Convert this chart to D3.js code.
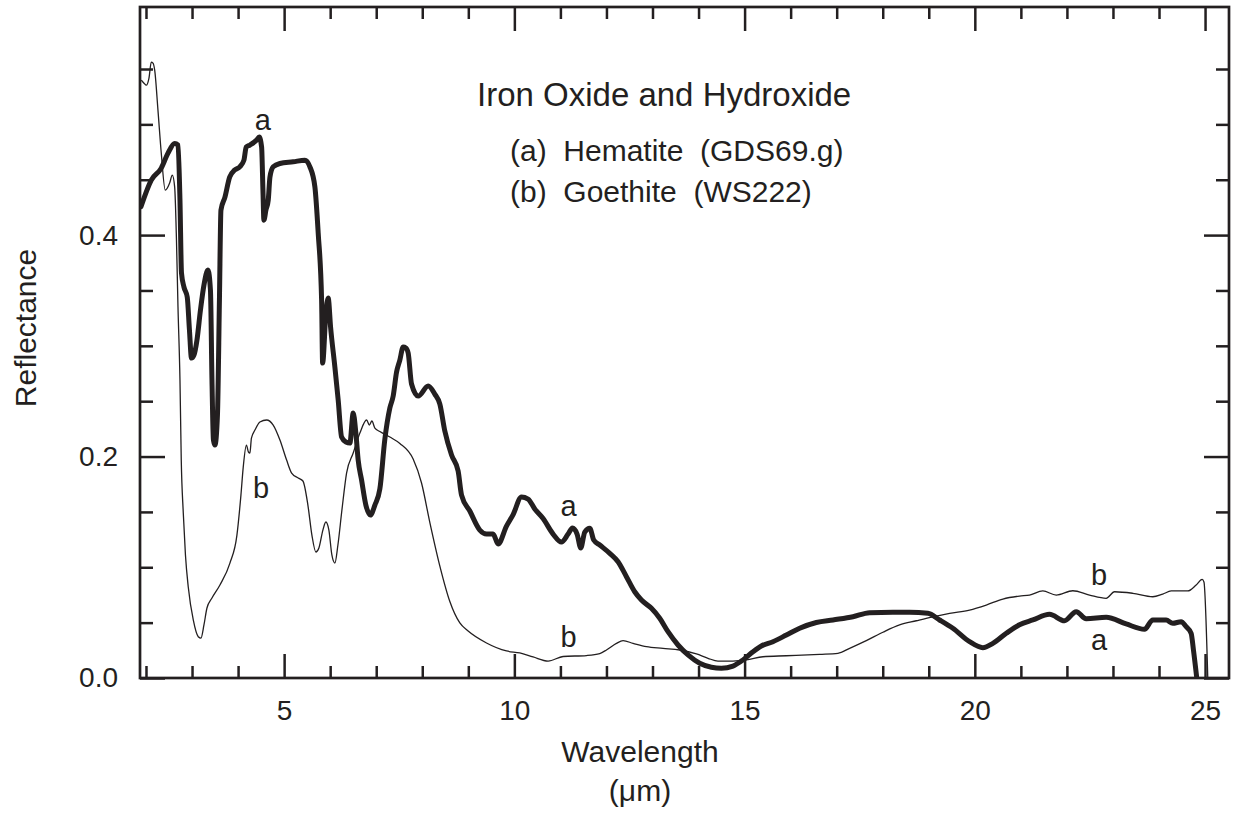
<!DOCTYPE html>
<html><head><meta charset="utf-8">
<script src="https://cdn.jsdelivr.net/npm/d3@7"></script>
<style>
body{margin:0;background:#fff}
text{font-family:"Liberation Sans",Arial,Helvetica,sans-serif;fill:#231f20}
</style>
</head><body>
<svg id="chart" width="1241" height="824"></svg>
<script>
// Hematite (GDS69.g) — wavelength (µm) and reflectance
const hematiteWl = [1.891,2.115,2.332,2.478,2.623,2.695,2.738,2.771,2.825,2.896,2.944,2.988,3.042,3.107,3.183,3.259,3.346,3.400,3.433,3.465,3.498,3.552,3.595,3.628,3.715,3.817,3.925,4.040,4.127,4.177,4.257,4.403,4.459,4.511,4.540,4.561,4.605,4.655,4.692,4.763,4.909,5.197,5.451,5.560,5.668,5.740,5.814,5.836,5.907,5.957,6.009,6.102,6.174,6.248,6.341,6.428,6.500,6.558,6.608,6.682,6.775,6.873,6.971,7.079,7.188,7.296,7.368,7.442,7.513,7.585,7.644,7.694,7.767,7.911,8.128,8.273,8.382,8.490,8.636,8.779,8.853,9.033,9.250,9.395,9.539,9.647,9.829,9.973,10.155,10.298,10.444,10.624,10.841,11.023,11.167,11.262,11.362,11.442,11.529,11.638,11.724,11.855,12.072,12.252,12.434,12.614,12.760,12.977,13.157,13.337,13.554,13.771,14.025,14.279,14.496,14.748,14.965,15.182,15.364,15.616,15.907,16.196,16.558,16.919,17.353,17.715,18.221,18.583,18.981,19.235,19.523,19.886,20.174,20.392,20.683,20.971,21.260,21.622,21.948,22.202,22.419,22.853,23.287,23.684,23.865,24.155,24.299,24.481,24.590,24.698,24.748,24.820];
const hematiteR = [0.4256,0.4497,0.4605,0.4740,0.4828,0.4813,0.4316,0.3657,0.3530,0.3440,0.3142,0.2889,0.2916,0.3052,0.3323,0.3549,0.3684,0.3503,0.2691,0.2149,0.2104,0.2375,0.3413,0.4226,0.4343,0.4524,0.4587,0.4617,0.4677,0.4795,0.4813,0.4858,0.4885,0.4795,0.4406,0.4135,0.4226,0.4316,0.4524,0.4617,0.4647,0.4662,0.4677,0.4617,0.4436,0.4018,0.3413,0.2844,0.3296,0.3431,0.3169,0.2808,0.2510,0.2176,0.2131,0.2122,0.2393,0.2212,0.1968,0.1788,0.1562,0.1472,0.1562,0.1707,0.2158,0.2438,0.2546,0.2763,0.2871,0.2989,0.2980,0.2935,0.2655,0.2546,0.2637,0.2564,0.2474,0.2230,0.2014,0.1869,0.1652,0.1508,0.1336,0.1300,0.1300,0.1210,0.1372,0.1476,0.1634,0.1616,0.1526,0.1440,0.1300,0.1228,0.1300,0.1354,0.1300,0.1174,0.1318,0.1352,0.1246,0.1201,0.1126,0.1050,0.0915,0.0779,0.0704,0.0629,0.0539,0.0418,0.0298,0.0208,0.0133,0.0097,0.0088,0.0108,0.0163,0.0237,0.0289,0.0328,0.0388,0.0449,0.0501,0.0524,0.0553,0.0590,0.0593,0.0593,0.0584,0.0524,0.0449,0.0328,0.0274,0.0313,0.0404,0.0481,0.0524,0.0575,0.0517,0.0599,0.0535,0.0548,0.0488,0.0440,0.0524,0.0524,0.0494,0.0508,0.0463,0.0404,0.0253,0.0];

// Goethite (WS222) — wavelength (µm) and reflectance
const goethiteWl = [1.898,1.957,2.007,2.065,2.115,2.152,2.189,2.260,2.332,2.419,2.514,2.571,2.623,2.662,2.695,2.738,2.766,2.810,2.857,2.918,3.027,3.135,3.194,3.259,3.324,3.433,3.606,3.823,3.975,4.062,4.112,4.181,4.225,4.257,4.290,4.366,4.474,4.620,4.763,4.909,5.054,5.163,5.306,5.408,5.516,5.603,5.690,5.755,5.842,5.907,5.972,6.037,6.102,6.168,6.255,6.356,6.500,6.645,6.791,6.851,6.906,6.971,7.079,7.296,7.513,7.802,7.984,8.165,8.382,8.599,8.816,8.996,9.395,9.829,10.118,10.407,10.733,11.058,11.566,11.855,12.000,12.217,12.361,12.578,12.868,13.229,13.591,13.954,14.206,14.422,14.748,15.039,15.399,15.907,16.630,17.027,17.281,17.643,18.004,18.366,18.729,19.089,19.452,19.886,20.248,20.609,20.971,21.188,21.477,21.768,22.128,22.491,22.853,23.034,23.431,23.865,24.082,24.264,24.625,24.807,24.937,24.976,25.059];
const goethiteR = [0.5400,0.5372,0.5354,0.5418,0.5562,0.5553,0.5490,0.5129,0.4740,0.4406,0.4470,0.4542,0.4433,0.3955,0.3350,0.2691,0.1968,0.1490,0.1111,0.0822,0.0524,0.0373,0.0361,0.0479,0.0632,0.0722,0.0840,0.1038,0.1291,0.1652,0.1905,0.2104,0.2041,0.2032,0.2167,0.2239,0.2312,0.2330,0.2284,0.2149,0.1968,0.1851,0.1806,0.1779,0.1562,0.1291,0.1138,0.1174,0.1336,0.1409,0.1336,0.1111,0.1038,0.1201,0.1517,0.1851,0.2032,0.2212,0.2330,0.2284,0.2321,0.2257,0.2226,0.2176,0.2118,0.1977,0.1761,0.1404,0.1011,0.0691,0.0497,0.0424,0.0316,0.0244,0.0226,0.0190,0.0153,0.0194,0.0203,0.0221,0.0253,0.0313,0.0337,0.0313,0.0283,0.0268,0.0253,0.0217,0.0178,0.0153,0.0153,0.0163,0.0192,0.0201,0.0214,0.0223,0.0268,0.0337,0.0413,0.0479,0.0517,0.0553,0.0584,0.0614,0.0659,0.0713,0.0740,0.0749,0.0786,0.0749,0.0788,0.0749,0.0720,0.0779,0.0765,0.0734,0.0758,0.0786,0.0786,0.0840,0.0891,0.0867,0.0];

const xMajorTicks = [5,10,15,20,25];
const xMinorTicks = [2,3,4,6,7,8,9,11,12,13,14,16,17,18,19,21,22,23,24];
const yMajorTicks = [0.0,0.2,0.4];
const yMinorTicks = [0.05,0.1,0.15,0.25,0.3,0.35,0.45,0.5,0.55];

const titleText = "Iron Oxide and Hydroxide";
const legendLines = ["(a)  Hematite  (GDS69.g)", "(b)  Goethite  (WS222)"];
const xTitle = "Wavelength";
const xUnit = "(\u03bcm)";
const yTitle = "Reflectance";
// curve labels: [wavelength, reflectance, text]
const curveLabels = [[4.54,0.495,"a"],[4.50,0.163,"b"],[11.18,0.146,"a"],[11.18,0.028,"b"],[22.7,0.084,"b"],[22.7,0.025,"a"]];

const INK = "#231f20";
const svg = d3.select("#chart");
const L = 140, R = 1229, T = 7, B = 678;
const x = d3.scaleLinear().domain([1.87, 25.52]).range([L, R]);
const y = d3.scaleLinear().domain([0, 0.606]).range([B, T]);

const line = d3.line().x(d => x(d[0])).y(d => y(d[1])).curve(d3.curveMonotoneX);
const hem = hematiteWl.map((w,i) => [w, hematiteR[i]]);
const goe = goethiteWl.map((w,i) => [w, goethiteR[i]]);

const clip = svg.append("clipPath").attr("id","clp").append("rect")
  .attr("x", L).attr("y", T).attr("width", R-L).attr("height", B-T);
const plot = svg.append("g").attr("clip-path","url(#clp)");
plot.append("path").datum(goe).attr("d", line).attr("fill","none")
  .attr("stroke", INK).attr("stroke-width", 1.3).attr("stroke-linejoin","round");
plot.append("path").datum(hem).attr("d", line).attr("fill","none")
  .attr("stroke", INK).attr("stroke-width", 5).attr("stroke-linejoin","round").attr("stroke-linecap","round");

function styleAxis(g){
  g.select(".domain").remove();
  g.selectAll(".tick line").attr("stroke", INK).attr("stroke-width", 2.5);
  g.selectAll(".tick text").attr("fill", INK).style("font-size","28px")
    .style("font-family",'"Liberation Sans",Arial,sans-serif');
}
// bottom
svg.append("g").attr("transform",`translate(0,${B})`)
  .call(d3.axisBottom(x).tickValues(xMinorTicks).tickSize(-12).tickFormat("")).call(styleAxis);
svg.append("g").attr("transform",`translate(0,${B})`)
  .call(d3.axisBottom(x).tickValues(xMajorTicks).tickSize(-24).tickPadding(22).tickFormat(d3.format("d"))).call(styleAxis);
// top
svg.append("g").attr("transform",`translate(0,${T})`)
  .call(d3.axisTop(x).tickValues(xMinorTicks).tickSize(-12).tickFormat("")).call(styleAxis);
svg.append("g").attr("transform",`translate(0,${T})`)
  .call(d3.axisTop(x).tickValues(xMajorTicks).tickSize(-24).tickFormat("")).call(styleAxis);
// left
svg.append("g").attr("transform",`translate(${L},0)`)
  .call(d3.axisLeft(y).tickValues(yMinorTicks).tickSize(-13).tickFormat("")).call(styleAxis);
svg.append("g").attr("transform",`translate(${L},0)`)
  .call(d3.axisLeft(y).tickValues(yMajorTicks).tickSize(-25).tickPadding(22).tickFormat(d3.format(".1f"))).call(styleAxis);
// right
svg.append("g").attr("transform",`translate(${R},0)`)
  .call(d3.axisRight(y).tickValues(yMinorTicks).tickSize(-13).tickFormat("")).call(styleAxis);
svg.append("g").attr("transform",`translate(${R},0)`)
  .call(d3.axisRight(y).tickValues(yMajorTicks).tickSize(-25).tickFormat("")).call(styleAxis);

svg.append("rect").attr("x",L).attr("y",T).attr("width",R-L).attr("height",B-T)
  .attr("fill","none").attr("stroke",INK).attr("stroke-width",2.7);

// title & legend
svg.append("text").attr("x",477).attr("y",106).style("font-size","33px").text(titleText);
legendLines.forEach((t,i) => {
  svg.append("text").attr("x",510).attr("y",161 + i*41).style("font-size","30px")
    .attr("xml:space","preserve").style("white-space","pre").text(t);
});

// curve labels
curveLabels.forEach(c => {
  svg.append("text").attr("x", x(c[0])).attr("y", y(c[1])).attr("text-anchor","middle")
    .style("font-size","29px").text(c[2]);
});

// axis titles
svg.append("text").attr("x",640).attr("y",762).attr("text-anchor","middle").style("font-size","30px").text(xTitle);
svg.append("text").attr("x",640).attr("y",801).attr("text-anchor","middle").style("font-size","30px").text(xUnit);
svg.append("text").attr("transform","translate(36,328) rotate(-90)").attr("text-anchor","middle")
  .style("font-size","30px").text(yTitle);
</script>
</body></html>
